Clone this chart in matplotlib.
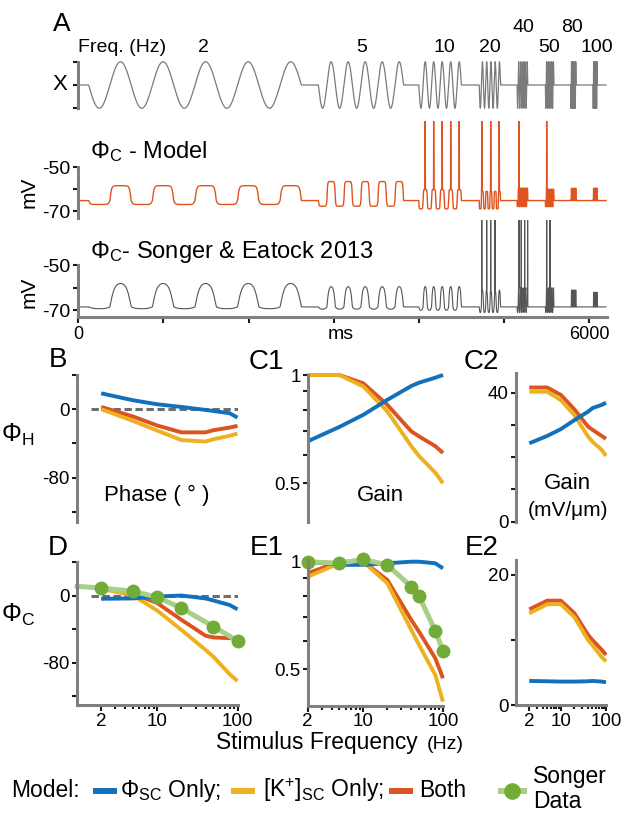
import numpy as np
import matplotlib
matplotlib.use('Agg')
import matplotlib.pyplot as plt
from matplotlib.ticker import FixedLocator, FixedFormatter, NullLocator, NullFormatter

plt.rcParams['font.family'] = ['Liberation Sans', 'DejaVu Sans']
plt.rcParams['mathtext.fontset'] = 'custom'
plt.rcParams['mathtext.rm'] = 'Liberation Sans'
plt.rcParams['mathtext.it'] = 'Liberation Sans:italic'
plt.rcParams['mathtext.bf'] = 'Liberation Sans:bold'
plt.rcParams['axes.unicode_minus'] = False

# ---------------- data ----------------
# panel A: stimulus segments (ms) and response levels (mV)
seg_freq = [2, 5, 10, 20, 40, 50, 80, 100]
seg_start = [120, 2820, 4000, 4710, 5155, 5487, 5785, 6047]
n_cycles = 5
t_end = 6200

model_rest = -65.2
model_up = [-58.4, -56.5, -60.2, -61.0, -59.5, -60.0, -59.6, -59.6]
model_down = [-67.0, -67.8, -69.0, -69.0, -68.0, -68.0, -65.0, -65.0]
model_spikes = [4075, 4175, 4275, 4375, 4475, 4740, 4845, 4945, 5177, 5503]

songer_rest = -68.5
songer_up = [-58.1, -59.5, -59.5, -61.0, -60.0, -60.0, -61.0, -62.0]
songer_down = [-69.3, -69.5, -70.0, -71.0, -71.0, -71.0, -68.5, -68.5]
songer_spikes = [4740, 4798, 4845, 4895, 5177, 5204, 5244, 5279, 5503, 5542]

# panels B-E: model frequencies (Hz)
freqs = [2, 5, 10, 20, 40, 50, 80, 100]

phaseH_sc = [18.6, 10.5, 5.8, 2.7, -0.8, -2.0, -4.7, -9.7]
phaseH_k = [0.0, -13.6, -25.0, -36.0, -37.7, -35.0, -31.0, -28.3]
phaseH_both = [2.7, -8.5, -19.0, -27.0, -27.0, -24.5, -21.4, -19.4]

gainH_norm_sc = [0.654, 0.717, 0.775, 0.853, 0.932, 0.952, 0.983, 1.0]
gainH_norm_k = [1.0, 1.0, 0.929, 0.792, 0.634, 0.595, 0.535, 0.50]
gainH_norm_both = [1.0, 1.0, 0.948, 0.826, 0.697, 0.675, 0.634, 0.607]

gainH_sc = [24.3, 26.6, 28.7, 31.5, 34.1, 35.2, 36.2, 36.9]
gainH_k = [40.3, 40.3, 37.7, 33.0, 26.4, 24.8, 22.3, 20.4]
gainH_both = [41.6, 41.6, 39.3, 34.8, 29.5, 28.5, 26.6, 25.7]

phaseC_sc = [-3.9, -3.5, -1.2, 0.0, -3.5, -5.9, -11.4, -16.5]
phaseC_k = [8.0, 0.0, -18.0, -41.0, -65.0, -73.0, -94.0, -102.0]
phaseC_both = [9.0, 2.0, -9.0, -29.0, -48.0, -50.0, -51.0, -51.0]

songer_phase_f = [1, 2, 5, 10, 20, 50, 100]
songer_phase = [11.0, 9.0, 5.0, -2.0, -15.0, -37.0, -54.0]

gainC_norm_sc = [1.0, 0.98, 0.98, 0.99, 1.0, 1.0, 0.99, 0.958]
gainC_norm_k = [0.908, 0.99, 1.0, 0.87, 0.644, 0.585, 0.482, 0.406]
gainC_norm_both = [0.928, 1.0, 1.0, 0.889, 0.687, 0.637, 0.537, 0.472]
songer_gain = [1.0, 0.99, 1.015, 0.979, 0.851, 0.802, 0.64, 0.564]

gainC_sc = [3.7, 3.65, 3.6, 3.6, 3.65, 3.7, 3.6, 3.5]
gainC_k = [14.1, 15.5, 15.5, 13.5, 10.0, 9.2, 7.4, 6.7]
gainC_both = [14.7, 16.05, 16.05, 14.1, 10.8, 10.0, 8.5, 7.7]

# ---------------- style ----------------
c_sc = '#1370BA'
c_k = '#EDB120'
c_both = '#DB5420'
c_green = '#72AB38'
c_green_l = '#A8CF88'
c_trace_model = '#E0531E'
c_trace_songer = '#555555'
c_stim = '#7a7a7a'
spine_c = '#808080'
tick_c = '#1a1a1a'
lw_panel = 2.8

W, H = 628, 813
fig = plt.figure(figsize=(W / 100, H / 100), dpi=100)


def px_axes(l, t, r, b):
    return fig.add_axes([l / W, 1 - b / H, (r - l) / W, (b - t) / H])


ov = px_axes(0, 0, W, H)
ov.set_xlim(0, W)
ov.set_ylim(H, 0)
ov.axis('off')

# ---------------- panel A ----------------
t = np.arange(0, t_end, 0.2)


def build_stim():
    x = np.zeros_like(t)
    for f, t0 in zip(seg_freq, seg_start):
        T = 1000.0 / f
        m = (t >= t0) & (t < t0 + n_cycles * T)
        x[m] = -np.sin(2 * np.pi * (t[m] - t0) / T)
    return x


def build_trace(rest, up, down, sharp, spikes):
    v = np.full_like(t, rest)
    for f, t0, vu, vd in zip(seg_freq, seg_start, up, down):
        T = 1000.0 / f
        m = (t >= t0) & (t < t0 + n_cycles * T)
        s = -np.sin(2 * np.pi * (t[m] - t0) / T)
        r = np.tanh(sharp * s) / np.tanh(sharp)
        v[m] = rest + (vu - rest) * np.clip(r, 0, None) + (vd - rest) * np.clip(-r, 0, None)
    for ts in spikes:
        v += (-20 - v) * np.exp(-((t - ts) / 1.0) ** 2)
    return v


x_l, x_r, t_max = 78.4, 606.7, 6208

ax_stim = px_axes(x_l, 59.4, x_r, 110.6)
ax_stim.plot(t, build_stim(), color=c_stim, lw=0.9)
ax_stim.set_xlim(0, t_max)
ax_stim.set_ylim(-1.1, 1.1)
ax_stim.patch.set_visible(False)
for s in ['top', 'right', 'bottom']:
    ax_stim.spines[s].set_visible(False)
ax_stim.spines['left'].set_bounds(-1, 1)
ax_stim.spines['left'].set_color(spine_c)
ax_stim.spines['left'].set_linewidth(2.2)
ax_stim.set_xticks([])
ax_stim.set_yticks([-1, 0, 1])
ax_stim.set_yticklabels([])
ax_stim.tick_params(axis='y', direction='out', length=3.6, width=1.5, color=tick_c)


def trace_ax(top, bottom, lo, hi, v, color, lw, show_time):
    ax = px_axes(x_l, top, x_r, bottom)
    ax.plot(t, v, color=color, lw=lw)
    ax.set_xlim(0, t_max)
    ax.set_ylim(lo, hi)
    ax.patch.set_visible(False)
    for s in ['top', 'right']:
        ax.spines[s].set_visible(False)
    ax.spines['left'].set_bounds(lo, -50)
    ax.spines['left'].set_color(spine_c)
    ax.spines['left'].set_linewidth(2.2)
    ax.set_yticks([-70, -60, -50])
    ax.set_yticklabels(['-70', '', '-50'])
    ax.tick_params(axis='y', direction='out', length=3.6, width=1.5, color=tick_c,
                   labelsize=14, pad=2.5)
    if show_time:
        ax.spines['bottom'].set_color(spine_c)
        ax.spines['bottom'].set_linewidth(2.2)
        ax.set_xticks(np.arange(0, 6001, 1000))
        ax.set_xticklabels(['0', '', '', '', '', '', '6000'])
        ax.tick_params(axis='x', direction='out', length=4.5, width=1.5, color=tick_c,
                       labelsize=13, pad=1.5)
    else:
        ax.spines['bottom'].set_visible(False)
        ax.set_xticks([])
    return ax


trace_ax(121.4, 217.6, -73, -29,
         build_trace(model_rest, model_up, model_down, 4.0, model_spikes),
         c_trace_model, 1.0, False)
trace_ax(220.2, 317.5, -73.2, -30,
         build_trace(songer_rest, songer_up, songer_down, 1.3, songer_spikes),
         c_trace_songer, 0.8, True)

ov.text(62, 24, 'A', fontsize=19, ha='center', va='center')
ov.text(78, 47.5, 'Freq. (Hz)', fontsize=14, ha='left', va='center')
for lab, lx, ly in zip(['2', '5', '10', '20', '40', '50', '80', '100'],
                       [203, 362, 444, 490, 523, 549, 572, 597],
                       [47.5, 47.5, 47.5, 47.5, 27, 47.5, 27, 47.5]):
    ov.text(lx, ly, lab, fontsize=14, ha='center', va='center')
ov.text(59.5, 85, 'X', fontsize=16, ha='center', va='center')
ov.text(90, 158.3, r'$\Phi_{\mathrm{C}}$ - Model', fontsize=17, ha='left', va='baseline')
ov.text(90, 258.3, r'$\Phi_{\mathrm{C}}$- Songer & Eatock 2013', fontsize=17,
        ha='left', va='baseline')
ov.text(29, 192.5, 'mV', fontsize=15, rotation=90, ha='center', va='center')
ov.text(29, 292.5, 'mV', fontsize=15, rotation=90, ha='center', va='center')
ov.text(341, 334, 'ms', fontsize=14, ha='center', va='center')

# ---------------- panels B-E ----------------
minor_f = [3, 4, 5, 6, 7, 8, 9, 20, 30, 40, 50, 60, 70, 80, 90]


def freq_ax(box, xlim, ylim, yticks, ylabels, logy=False, xaxis=False):
    ax = px_axes(*box)
    ax.set_xscale('log')
    if logy:
        ax.set_yscale('log')
    ax.set_xlim(*xlim)
    ax.set_ylim(*ylim)
    ax.patch.set_visible(False)
    for s in ['top', 'right']:
        ax.spines[s].set_visible(False)
    ax.spines['left'].set_color(spine_c)
    ax.spines['left'].set_linewidth(2.2)
    ax.yaxis.set_major_locator(FixedLocator(yticks))
    ax.yaxis.set_major_formatter(FixedFormatter(ylabels))
    ax.yaxis.set_minor_locator(NullLocator())
    ax.tick_params(axis='y', which='major', direction='out', length=3.6, width=1.5,
                   color=tick_c, labelsize=13.5, pad=1.5)
    if xaxis:
        ax.spines['bottom'].set_color(spine_c)
        ax.spines['bottom'].set_linewidth(2.2)
        ax.xaxis.set_major_locator(FixedLocator([2, 10, 100]))
        ax.xaxis.set_major_formatter(FixedFormatter(['2', '10', '100']))
        ax.xaxis.set_minor_locator(FixedLocator(minor_f))
        ax.xaxis.set_minor_formatter(NullFormatter())
        ax.tick_params(axis='x', which='major', direction='out', length=4.5, width=1.5,
                       color=tick_c, labelsize=13.5, pad=1)
        ax.tick_params(axis='x', which='minor', direction='out', length=3, width=1.5,
                       color=tick_c)
    else:
        ax.spines['bottom'].set_visible(False)
        ax.xaxis.set_major_locator(NullLocator())
        ax.xaxis.set_minor_locator(NullLocator())
    return ax


def model_lines(ax, sc, k, both):
    ax.plot(freqs, both, color=c_both, lw=lw_panel, solid_capstyle='butt', clip_on=False)
    ax.plot(freqs, k, color=c_k, lw=lw_panel, solid_capstyle='butt', clip_on=False)
    ax.plot(freqs, sc, color=c_sc, lw=lw_panel, solid_capstyle='butt', clip_on=False)


phase_ticks = [-120, -80, -40, 0, 40]
phase_labels = ['', '-80', '', '0', '']
norm_ticks = [0.5, 0.6, 0.7, 0.8, 0.9, 1.0]
norm_labels = ['0.5', '', '', '', '', '1']

# B
axB = freq_ax((77, 375, 237.5, 522), (1, 100), (-131.7, 40), phase_ticks, phase_labels)
axB.plot([1.5, 100], [0, 0], color='#6e6e6e', lw=2.2, dashes=(2.4, 1.2))
model_lines(axB, phaseH_sc, phaseH_k, phaseH_both)

# C1
axC1 = freq_ax((307.7, 375, 443, 522), (2, 100), (0.39, 1.0), norm_ticks, norm_labels,
               logy=True)
model_lines(axC1, gainH_norm_sc, gainH_norm_k, gainH_norm_both)

# C2
axC2 = freq_ax((515.7, 373.3, 606, 521.7), (1, 100), (0, 46), [0, 10, 20, 30, 40],
               ['0', '', '', '', '40'])
model_lines(axC2, gainH_sc, gainH_k, gainH_both)

# D
axD = freq_ax((77, 562, 237.5, 705), (1, 100), (-130.7, 40), phase_ticks, phase_labels,
              xaxis=True)
axD.plot([1.5, 100], [0, 0], color='#6e6e6e', lw=2.2, dashes=(2.4, 1.2))
model_lines(axD, phaseC_sc, phaseC_k, phaseC_both)
axD.plot(songer_phase_f, songer_phase, color=c_green_l, lw=3.6, clip_on=False)
axD.plot(songer_phase_f[1:], songer_phase[1:], 'o', color=c_green, ms=10, mew=0,
         clip_on=False)

# E1
axE1 = freq_ax((307.7, 560, 443, 705.7), (2, 100), (0.3955, 1.011), norm_ticks,
               norm_labels, logy=True, xaxis=True)
model_lines(axE1, gainC_norm_sc, gainC_norm_k, gainC_norm_both)
axE1.plot(freqs, songer_gain, color=c_green_l, lw=3.6, clip_on=False)
axE1.plot(freqs, songer_gain, 'o', color=c_green, ms=10, mew=0, clip_on=False)

# E2
axE2 = freq_ax((515.7, 560, 606, 705), (1, 100), (0, 22.3), [0, 10, 20], ['0', '', '20'],
               xaxis=True)
model_lines(axE2, gainC_sc, gainC_k, gainC_both)

# panel texts
for lab, lx, ly in [('B', 58, 360), ('C1', 266, 362), ('C2', 481, 362),
                    ('D', 58, 548), ('E1', 267, 548), ('E2', 482, 548)]:
    ov.text(lx, ly, lab, fontsize=20, ha='center', va='center')
ov.text(18, 435, r'$\Phi_{\mathrm{H}}$', fontsize=18, ha='center', va='center')
ov.text(18, 615, r'$\Phi_{\mathrm{C}}$', fontsize=18, ha='center', va='center')
ov.text(157, 495, 'Phase ( ° )', fontsize=16, ha='center', va='center')
ov.text(380, 495, 'Gain', fontsize=16, ha='center', va='center')
ov.text(567.5, 483, 'Gain', fontsize=16, ha='center', va='center')
ov.text(568, 510, '(mV/μm)', fontsize=15, ha='center', va='center')
ov.text(216, 749, 'Stimulus Frequency', fontsize=16.4, ha='left', va='baseline')
ov.text(464, 749, '(Hz)', fontsize=14, ha='right', va='baseline')

# legend
ov.text(11, 797, 'Model:', fontsize=16.5, ha='left', va='baseline')
ov.plot([93, 117], [791, 791], color=c_sc, lw=4.3, solid_capstyle='butt')
ov.text(120.4, 797, r'$\Phi_{\mathrm{SC}}$ Only;', fontsize=16.5, ha='left', va='baseline')
ov.plot([230.7, 254.8], [791, 791], color=c_k, lw=4.3, solid_capstyle='butt')
ov.text(263, 797, r'[K$^{+}$]$_{\mathrm{SC}}$ Only;', fontsize=16.5, ha='left',
        va='baseline')
ov.plot([389, 413], [791, 791], color=c_both, lw=4.3, solid_capstyle='butt')
ov.text(419.4, 797, 'Both', fontsize=16.5, ha='left', va='baseline')
ov.plot([498, 527], [791, 791], color=c_green_l, lw=4.3, solid_capstyle='butt')
ov.plot([512], [791], 'o', color=c_green, ms=12, mew=0)
ov.text(533, 783, 'Songer', fontsize=16.5, ha='left', va='baseline')
ov.text(533, 808, 'Data', fontsize=16.5, ha='left', va='baseline')

fig.savefig('out.png', dpi=100)
